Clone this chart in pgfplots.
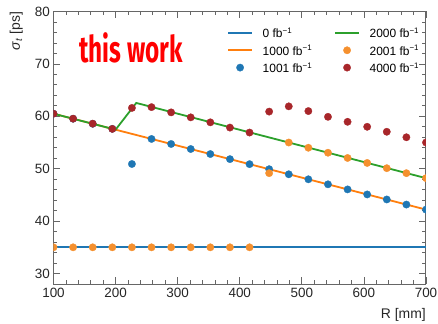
\documentclass[border=0pt]{standalone}
\usepackage{pgfplots}
\pgfplotsset{compat=1.18}
\usepackage{fontspec}
\setmainfont{Liberation Sans}
\newfontfamily\workfont{Fira Sans}
\usepackage{graphicx}
\definecolor{cblue}{HTML}{1F77B4}
\definecolor{corange}{HTML}{FF7F0E}
\definecolor{cgreen}{HTML}{2CA02C}
\definecolor{dorange}{HTML}{F5902E}
\definecolor{dred}{HTML}{A8262A}
\definecolor{axgray}{HTML}{666666}
\begin{document}
\begin{tikzpicture}
\begin{axis}[name=ax, scale only axis, width=372.5bp, height=272.5bp,
  xmin=100, xmax=700, ymin=28, ymax=80,
  xtick={100,200,...,700}, ytick={30,40,...,80},
  minor x tick num=4, minor y tick num=4,
  major tick length=7bp, minor tick length=3.5bp,
  tick style={color=axgray, line width=0.8bp},
  axis line style={axgray, line width=1bp},
  /pgf/number format/assume math mode=true,
  ticklabel style={font=\fontsize{13.5}{16}\selectfont, text=black!85},
  xticklabel style={inner sep=0pt, yshift=-4bp},
  yticklabel style={inner sep=0pt, xshift=-3.5bp},
  xlabel={R [mm]}, ylabel={\textit{σ}\textsubscript{\textit{t}} [ps]},
  label style={font=\fontsize{14}{16}\selectfont, text=black!85, inner sep=0pt},
  xlabel style={at={(rel axis cs:1,-0.128)}, anchor=base east},
  ylabel style={at={(rel axis cs:-0.082,1)}, anchor=south east},
  clip marker paths=true,
  dot/.style={only marks, mark=*, mark size=3.7bp, mark options={fill=#1, draw=#1, line width=0.3bp}},
  legend columns=2, legend cell align=left,
  legend style={draw=none, fill=none, inner sep=0pt, at={(rel axis cs:0.4658,0.94)}, anchor=north west,
    font=\fontsize{12}{14}\selectfont, row sep=7.5bp, nodes={inner sep=0pt, text depth=0pt},
    /tikz/every odd column/.append style={column sep=9.7bp},
    /tikz/every even column/.append style={column sep=22bp}},
  legend image code/.code={\draw[mark repeat=2,mark phase=2,#1] plot coordinates {(0bp,0bp) (12bp,0bp) (24bp,0bp)};},
]
% 0 fb^-1
\addplot[cblue, line width=2bp, forget plot] coordinates {(100,35.02) (700,35.02)};
% 1000 fb^-1
\addplot[corange, line width=1.8bp, forget plot] coordinates {(100,60.5) (700,42.2)};
% 1001 fb^-1
\addplot[dot=cblue, forget plot] coordinates {
(100,60.50) (131.58,59.54) (163.16,58.57) (194.74,57.61) (226.32,50.9) (257.89,55.68) (289.47,54.72) (321.05,53.76) (352.63,52.80) (384.21,51.83)
(415.79,50.87) (447.37,49.91) (478.95,48.94) (510.53,47.98) (542.11,47.02) (573.68,46.05) (605.26,45.09) (636.84,44.13) (668.42,43.16) (700,42.20)};
% 2000 fb^-1
\addplot[cgreen, line width=1.8bp, forget plot] coordinates {(100,60.5) (200,57.45) (233.33,62.55) (700,48.2)};
% 2001 fb^-1
\addplot[dot=dorange, forget plot] coordinates {
(100,35) (131.58,35) (163.16,35) (194.74,35) (226.32,35) (257.89,35) (289.47,35) (321.05,35) (352.63,35) (384.21,35)
(415.79,35) (447.37,49.15) (478.95,55.0) (510.53,54.0) (542.11,53.05) (573.68,52.05) (605.26,51.1) (636.84,50.1) (668.42,49.15) (700,48.2)};
% 4000 fb^-1
\addplot[dot=dred, forget plot] coordinates {
(100,60.5) (131.58,59.55) (163.16,58.6) (194.74,57.6) (226.32,61.6) (257.89,61.75) (289.47,60.75) (321.05,59.8) (352.63,58.85) (384.21,57.85)
(415.79,56.9) (447.37,60.9) (478.95,61.9) (510.53,61.0) (542.11,59.9) (573.68,58.95) (605.26,58.0) (636.84,57.05) (668.42,56.0) (700,55.0)};
% legend (row-wise order)
\addlegendimage{cblue, line width=1.8bp}
\addlegendentry{0 fb\textsuperscript{−1}}
\addlegendimage{cgreen, line width=1.8bp}
\addlegendentry{2000 fb\textsuperscript{−1}}
\addlegendimage{corange, line width=1.8bp}
\addlegendentry{1000 fb\textsuperscript{−1}}
\addlegendimage{dot=dorange}
\addlegendentry{2001 fb\textsuperscript{−1}}
\addlegendimage{dot=cblue}
\addlegendentry{1001 fb\textsuperscript{−1}}
\addlegendimage{dot=dred}
\addlegendentry{4000 fb\textsuperscript{−1}}
\node[anchor=base west, text=red, inner sep=0pt] at (rel axis cs:0.0685,0.813) {\scalebox{0.66}[1]{\workfont\bfseries\fontsize{37}{42}\selectfont this work}};
\end{axis}
\path ([shift={(-53.5bp,-40bp)}]ax.south west) rectangle ([shift={(12bp,11.5bp)}]ax.north east);
\end{tikzpicture}
\end{document}
